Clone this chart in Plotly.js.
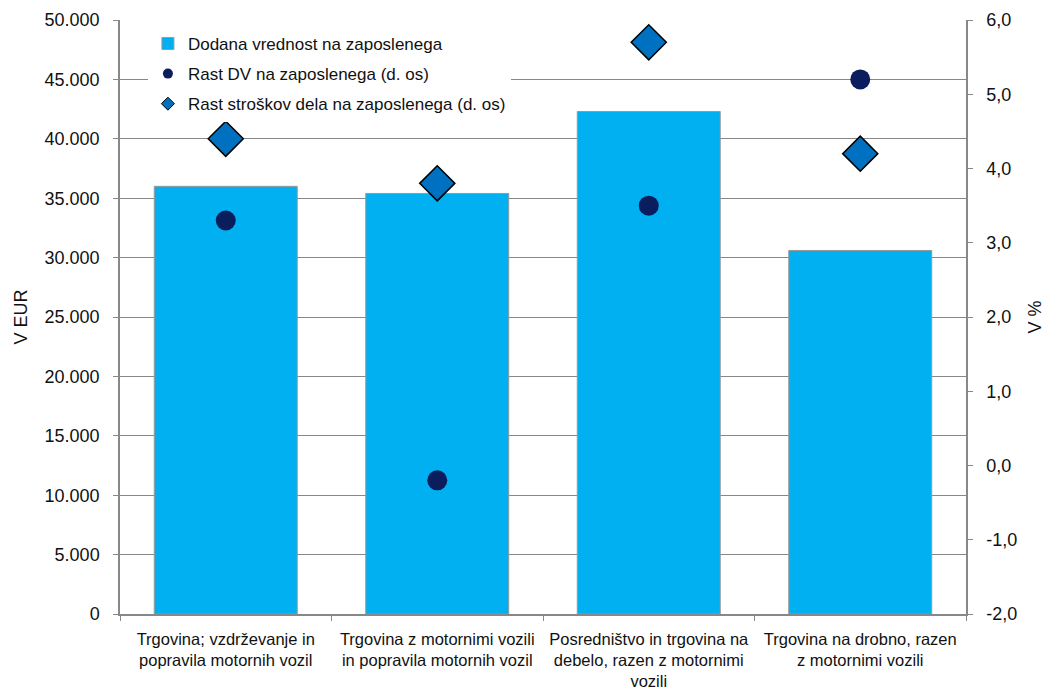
<!DOCTYPE html>
<html>
<head>
<meta charset="utf-8">
<script src="https://cdn.plot.ly/plotly-3.0.1.min.js"></script>
<style>body{margin:0;background:#fff}#chart{width:1052px;height:691px}</style>
</head>
<body>
<div id="chart"></div>
<script>
const categories = [
  "Trgovina; vzdrževanje in<br>popravila motornih vozil",
  "Trgovina z motornimi vozili<br>in popravila motornih vozil",
  "Posredništvo in trgovina na<br>debelo, razen z motornimi<br>vozili",
  "Trgovina na drobno, razen<br>z motornimi vozili"
];
const dodanaVrednost = [36000, 35400, 42300, 30600];
const rastDV = [3.3, -0.2, 3.5, 5.2];
const rastStroskov = [4.4, 3.8, 5.7, 4.2];
const seriesNames = [
  "Dodana vrednost na zaposlenega",
  "Rast DV na zaposlenega (d. os)",
  "Rast stroškov dela na zaposlenega (d. os)"
];
const rightTickVals = [-2, -1, 0, 1, 2, 3, 4, 5, 6];
const rightTickText = ["-2,0", "-1,0", "0,0", "1,0", "2,0", "3,0", "4,0", "5,0", "6,0"];

const FONT = "Liberation Sans, Arial, sans-serif";
const barColor = "#00B0F0", dotColor = "#0A1E5E", diaColor = "#0070C0";
const data = [
  {type: "bar", x: categories, y: dodanaVrednost, name: seriesNames[0], legendgroup: "a",
   marker: {color: barColor, line: {color: "#999", width: 1}}},
  {type: "scatter", mode: "markers", x: categories, y: rastDV, name: seriesNames[1], yaxis: "y2",
   showlegend: false, marker: {symbol: "circle", size: 20, color: dotColor}},
  {type: "scatter", mode: "markers", x: categories, y: rastStroskov, name: seriesNames[2], yaxis: "y2",
   showlegend: false, marker: {symbol: "diamond", size: 27, color: diaColor, line: {color: "#000", width: 1.5}}},
  // legend-only entries with small symbols, as in the reference legend
  {type: "scatter", mode: "markers", x: [null], y: [null], name: seriesNames[1], yaxis: "y2", legendgroup: "b",
   marker: {symbol: "circle", size: 10, color: dotColor}},
  {type: "scatter", mode: "markers", x: [null], y: [null], name: seriesNames[2], yaxis: "y2", legendgroup: "c",
   marker: {symbol: "diamond", size: 10, color: diaColor, line: {color: "#000", width: 1}}}
];
const layout = {
  width: 1052, height: 691,
  margin: {l: 120, r: 86, t: 20, b: 77},
  paper_bgcolor: "#fff", plot_bgcolor: "#fff",
  separators: ",.",
  font: {family: FONT, size: 18, color: "#111"},
  bargap: 0.324,
  showlegend: true,
  legend: {x: 0.033, y: 0.99, xanchor: "left", yanchor: "top", bgcolor: "#fff",
    traceorder: "grouped", tracegroupgap: 5, itemsizing: "trace",
    font: {family: FONT, size: 17, color: "#111"}},
  xaxis: {showline: true, linecolor: "#888", linewidth: 1.5, ticks: "outside", tickson: "boundaries",
    ticklen: 5, tickcolor: "#888", showgrid: false, tickfont: {size: 16.5}, tickangle: 0,
    ticklabelstandoff: 9, automargin: false},
  yaxis: {range: [0, 50000], dtick: 5000, tickformat: ",d", showline: true, linecolor: "#888", linewidth: 1.5,
    ticks: "outside", ticklen: 5, tickcolor: "#888", gridcolor: "#888", gridwidth: 1.3, zeroline: false,
    ticklabelstandoff: 10,
    title: {text: "V EUR", standoff: 12, font: {size: 18}}, automargin: false},
  yaxis2: {range: [-2, 6], tickvals: rightTickVals, ticktext: rightTickText, overlaying: "y", side: "right",
    showline: true, linecolor: "#888", linewidth: 1.5, ticks: "outside", ticklen: 5, tickcolor: "#888",
    showgrid: false, zeroline: false, ticklabelstandoff: 10,
    title: {text: "V %", standoff: 12, font: {size: 18}}, automargin: false}
};
Plotly.newPlot("chart", data, layout, {displayModeBar: false});
</script>
</body>
</html>
